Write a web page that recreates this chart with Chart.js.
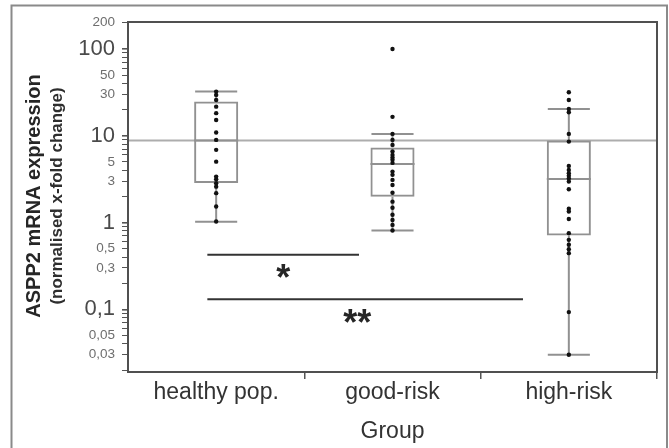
<!DOCTYPE html>
<html><head><meta charset="utf-8">
<script src="https://cdn.jsdelivr.net/npm/chart.js@4.4.1/dist/chart.umd.min.js"></script>
<style>html,body{margin:0;padding:0;background:#fff;}canvas{display:block;}</style>
</head><body>
<canvas id="c" width="669" height="448"></canvas>
<script>
const categories = ['healthy pop.', 'good-risk', 'high-risk'];
const healthyValues = [32.2, 29.5, 25.8, 21.6, 18.2, 15.2, 10.9, 8.95, 6.87, 5.03, 3.38, 3.16, 2.84, 2.59, 2.18, 1.53, 1.03];
const goodRiskValues = [99.7, 16.5, 10.5, 8.95, 7.84, 6.6, 6.01, 5.6, 5.27, 4.86, 3.86, 3.54, 3.10, 2.71, 2.20, 1.74, 1.48, 1.23, 1.07, 0.94, 0.81];
const highRiskValues = [31.7, 25.8, 20.3, 18.6, 10.5, 8.55, 4.49, 4.04, 3.70, 3.45, 3.21, 2.96, 2.42, 1.44, 1.34, 1.10, 0.755, 0.632, 0.554, 0.494, 0.444, 0.093, 0.030];
const boxQ1 = [2.86, 1.98, 0.71];
const boxMedian = [8.8, 4.73, 3.18];
const boxQ3 = [24.7, 7.3, 8.78];
const whiskerLow = [1.02, 0.81, 0.030];
const whiskerHigh = [32.2, 10.5, 20.3];
const referenceValue = 8.8;
const yTickValues = [0.02,0.03,0.04,0.05,0.06,0.07,0.08,0.09,0.1,0.2,0.3,0.4,0.5,0.6,0.7,0.8,0.9,1,2,3,4,5,6,7,8,9,10,20,30,40,50,60,70,80,90,100,200];
const yTickText = ['','0,03','','0,05','','','','','0,1','','0,3','','0,5','','','','','1','','3','','5','','','','','10','','30','','50','','','','','100','200'];
const majorTicks = [0.1, 1, 10, 100];
const yTitleLines = ['ASPP2 mRNA expression', '(normalised x-fold change)'];
const xTitle = 'Group';
const sigFrom = [-0.05, -0.05];
const sigTo = [0.81, 1.74];
const sigLevel = [0.425, 0.131];
const sigLabelX = [0.38, 0.80];
const sigLabelY = [0.280, 0.0844];
const sigText = ['*', '**'];

const FAM = '"Liberation Sans", Arial, Helvetica, sans-serif';
const groups = [healthyValues, goodRiskValues, highRiskValues];
const points = [];
groups.forEach((g, i) => g.forEach(v => points.push({x: categories[i], y: v})));
const BOXPCT = 0.25;

const decor = {
  id: 'decor',
  beforeDatasetsDraw(chart) {
    const {ctx, chartArea: a, scales: {x, y}} = chart;
    ctx.save();
    const ry = y.getPixelForValue(referenceValue);
    ctx.strokeStyle = '#adadad'; ctx.lineWidth = 2;
    ctx.beginPath(); ctx.moveTo(a.left, ry); ctx.lineTo(a.right, ry); ctx.stroke();
    const half = (a.right - a.left) / categories.length * BOXPCT / 2;
    ctx.strokeStyle = '#919191'; ctx.lineWidth = 2;
    categories.forEach((c, i) => {
      const cx = x.getPixelForValue(i);
      const yl = y.getPixelForValue(whiskerLow[i]);
      const yh = y.getPixelForValue(whiskerHigh[i]);
      const y1 = y.getPixelForValue(boxQ1[i]);
      const y3 = y.getPixelForValue(boxQ3[i]);
      const ym = y.getPixelForValue(boxMedian[i]);
      ctx.beginPath();
      ctx.moveTo(cx, yl); ctx.lineTo(cx, y1);
      ctx.moveTo(cx, y3); ctx.lineTo(cx, yh);
      ctx.moveTo(cx - half + 1, yl); ctx.lineTo(cx + half - 1, yl);
      ctx.moveTo(cx - half + 1, yh); ctx.lineTo(cx + half - 1, yh);
      ctx.moveTo(cx - half, ym); ctx.lineTo(cx + half, ym);
      ctx.stroke();
    });
    ctx.restore();
  },
  afterDatasetsDraw(chart) {
    const {ctx, scales: {x, y}} = chart;
    ctx.save();
    ctx.strokeStyle = '#333'; ctx.lineWidth = 2;
    sigText.forEach((t, i) => {
      const py = y.getPixelForValue(sigLevel[i]);
      ctx.beginPath();
      ctx.moveTo(x.getPixelForValue(sigFrom[i]), py);
      ctx.lineTo(x.getPixelForValue(sigTo[i]), py);
      ctx.stroke();
      ctx.font = 'bold 36px ' + FAM;
      ctx.fillStyle = '#262626';
      ctx.textAlign = 'center';
      ctx.textBaseline = 'alphabetic';
      const m = ctx.measureText(t);
      const cy = y.getPixelForValue(sigLabelY[i]);
      ctx.fillText(t, x.getPixelForValue(sigLabelX[i]), cy + (m.actualBoundingBoxAscent - m.actualBoundingBoxDescent) / 2);
    });
    ctx.restore();
  },
  afterDraw(chart) {
    const {ctx, chartArea: a} = chart;
    ctx.save();
    ctx.strokeStyle = '#505050'; ctx.lineWidth = 2;
    ctx.strokeRect(a.left, a.top, a.right - a.left, a.bottom - a.top);
    ctx.strokeStyle = '#8a8a8a'; ctx.lineWidth = 2;
    ctx.beginPath();
    ctx.moveTo(11.5, 448); ctx.lineTo(11.5, 5.5); ctx.lineTo(667, 5.5); ctx.lineTo(667, 448);
    ctx.stroke();
    const cy = (a.top + a.bottom) / 2 - 1;
    ctx.textAlign = 'center'; ctx.textBaseline = 'alphabetic';
    ctx.save();
    ctx.translate(40, cy); ctx.rotate(-Math.PI / 2);
    ctx.font = 'bold 20px ' + FAM; ctx.fillStyle = '#262626';
    ctx.fillText(yTitleLines[0], 0, 0);
    ctx.restore();
    ctx.save();
    ctx.translate(62, cy); ctx.rotate(-Math.PI / 2);
    ctx.font = 'bold 17px ' + FAM; ctx.fillStyle = '#2e2e2e';
    ctx.fillText(yTitleLines[1], 0, 0);
    ctx.restore();
    ctx.restore();
  }
};

new Chart(document.getElementById('c'), {
  type: 'bar',
  data: {
    labels: categories,
    datasets: [
      { type: 'line', data: points, showLine: false, pointRadius: 2.2, pointBackgroundColor: '#111', pointBorderColor: '#111', pointBorderWidth: 0, order: 0 },
      { type: 'bar', data: categories.map((c, i) => [boxQ1[i], boxQ3[i]]), backgroundColor: 'rgba(0,0,0,0)', borderColor: '#919191', borderWidth: 2, borderSkipped: false, barPercentage: BOXPCT, categoryPercentage: 1, order: 1 }
    ]
  },
  options: {
    responsive: false, animation: false, devicePixelRatio: 1,
    layout: { padding: { left: 0, top: 22, right: 12, bottom: 0 } },
    plugins: { legend: { display: false }, tooltip: { enabled: false } },
    scales: {
      x: {
        type: 'category', offset: true,
        grid: { offset: true, drawOnChartArea: false, drawTicks: true, tickLength: 7, lineWidth: 1.5,
          color: ctx => (ctx.index === 0 || ctx.index === categories.length) ? 'rgba(0,0,0,0)' : '#555' },
        border: { display: true, color: '#505050', width: 2 },
        ticks: { padding: 0, color: '#333', font: { family: FAM, size: 23 }, maxRotation: 0, autoSkip: false },
        title: { display: true, text: xTitle, color: '#333', font: { family: FAM, size: 23 }, padding: { top: 0, bottom: 3 } },
        afterFit: s => { s.height = 76; }
      },
      y: {
        type: 'logarithmic', min: 0.019, max: 204,
        afterBuildTicks: s => { s.ticks = yTickValues.map(v => ({ value: v })); },
        afterFit: s => { s.width = 128; },
        ticks: {
          autoSkip: false, padding: 7,
          callback: (v, i) => yTickText[i],
          font: ctx => (ctx.tick && majorTicks.includes(ctx.tick.value)) ? { family: FAM, size: 22 } : { family: FAM, size: 13.5 },
          color: ctx => (ctx.tick && majorTicks.includes(ctx.tick.value)) ? '#4a4a4a' : '#6e6e6e'
        },
        grid: { drawOnChartArea: false, drawTicks: true, tickLength: 6, color: '#555',
          lineWidth: ctx => (ctx.tick && majorTicks.includes(ctx.tick.value)) ? 1.6 : 1 },
        border: { display: true, color: '#505050', width: 2 }
      }
    }
  },
  plugins: [decor]
});
</script>
</body></html>
